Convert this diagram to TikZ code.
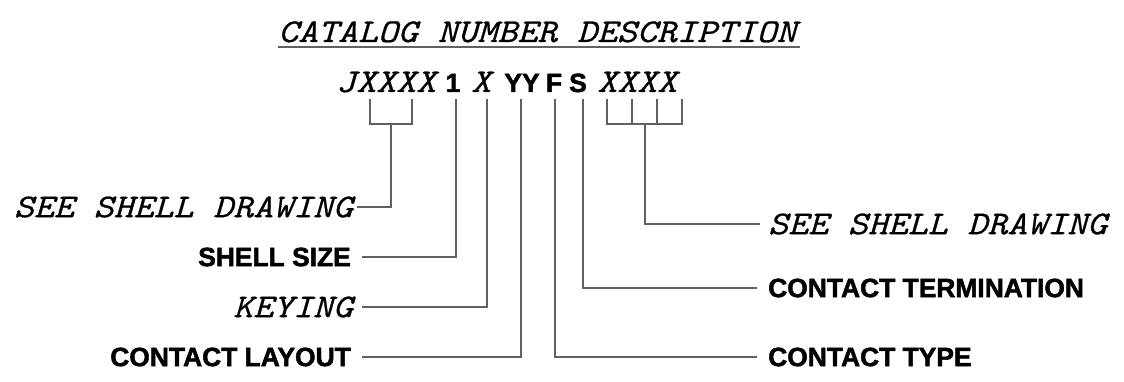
\documentclass[tikz,border=0pt]{standalone}
\usepackage{fontspec}
\newfontfamily\courit{Latin Modern Mono}[FakeStretch=1.14,FakeBold=0.7]
\newfontfamily\arialb{Liberation Sans}[FakeBold=1.8]
\begin{document}
\begin{tikzpicture}[x=1pt,y=-1pt,
  mono/.style={inner sep=0pt, font=\courit\itshape\fontsize{33.3}{36}\selectfont},
  sansb/.style={inner sep=0pt, font=\arialb\bfseries\fontsize{26.4}{30}\selectfont},
  conn/.style={draw=black!62, line width=1.3pt},
  uline/.style={draw=black!62, line width=1.3pt}]
\useasboundingbox (0,0) rectangle (1124,382);
% title
\node[mono,anchor=base west] (title) at (278,42) {CATALOG NUMBER DESCRIPTION};
\draw[uline] (278,47) -- (800,47);
% code line
\node[mono,anchor=base west] (jx) at (336,92) {JXXXX};
\node[sansb,anchor=base] (one) at (453,92) {1};
\node[mono,anchor=base] (kx) at (481,92) {X};
\node[sansb,anchor=base] (yy) at (522,92) {YY};
\node[sansb,anchor=base] (f) at (554,92) {F};
\node[sansb,anchor=base] (s) at (578,92) {S};
\node[mono,anchor=base west] (xx) at (597,92) {XXXX};
% tick coordinates
\coordinate (ja) at (370,99); \coordinate (jb) at (412,99);
\coordinate (jm) at (391,124);
\coordinate (t1) at (456,99);
\coordinate (tk) at (487,99);
\coordinate (ty) at (521,99);
\coordinate (tf) at (555,99);
\coordinate (ts) at (583,99);
\coordinate (xa) at (607,99); \coordinate (xb) at (632,99);
\coordinate (xc) at (657,99); \coordinate (xd) at (682,99);
\coordinate (xm) at (645,124);
% labels left
\node[mono,anchor=east] (lsee) at (353,207) {SEE SHELL DRAWING};
\node[sansb,anchor=east] (lsize) at (351,257) {SHELL SIZE};
\node[mono,anchor=east] (lkey) at (353,307) {KEYING};
\node[sansb,anchor=east] (llay) at (351,357) {CONTACT LAYOUT};
% labels right
\node[mono,anchor=west] (rsee) at (768,224) {SEE SHELL DRAWING};
\node[sansb,anchor=west] (rterm) at (768,288) {CONTACT TERMINATION};
\node[sansb,anchor=west] (rtype) at (768,357) {CONTACT TYPE};
% connectors
\draw[conn] (ja) -- (ja |- jm) -- (jb |- jm) -- (jb);
\draw[conn] (jm) |- ([xshift=4pt]lsee.east);
\draw[conn] (t1) |- ([xshift=11pt]lsize.east);
\draw[conn] (tk) |- ([xshift=9pt]lkey.east);
\draw[conn] (ty) |- ([xshift=11pt]llay.east);
\draw[conn] (tf) |- ([xshift=-11pt]rtype.west);
\draw[conn] (ts) |- ([xshift=-11pt]rterm.west);
\draw[conn] (xa) -- (xa |- xm) -- (xd |- xm) -- (xd);
\draw[conn] (xb) -- (xb |- xm);
\draw[conn] (xc) -- (xc |- xm);
\draw[conn] (xm) |- ([xshift=-8pt]rsee.west);
\end{tikzpicture}
\end{document}
